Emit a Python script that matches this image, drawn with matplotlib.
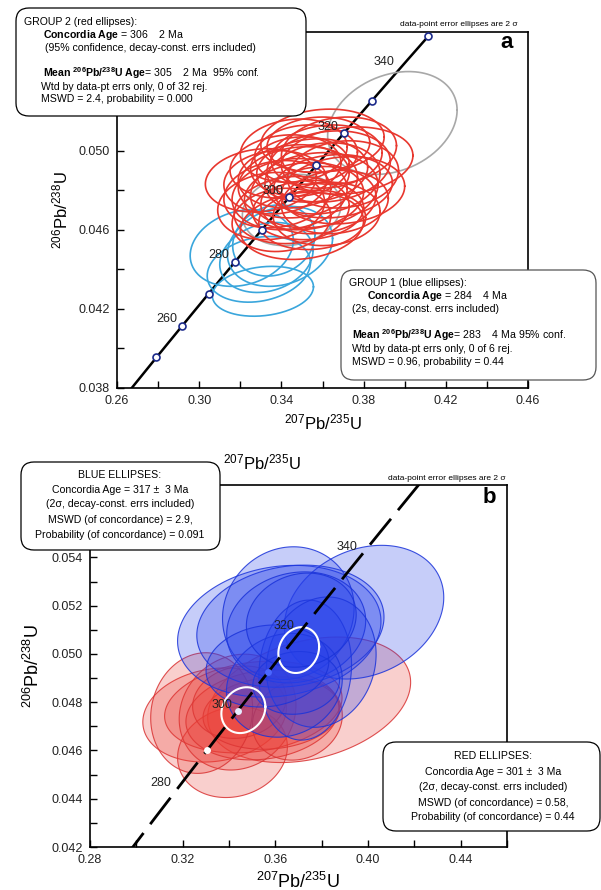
import numpy as np
import matplotlib
matplotlib.use('Agg')
import matplotlib.pyplot as plt
from matplotlib.patches import FancyBboxPatch
from matplotlib.ticker import MultipleLocator, FixedLocator, FormatStrFormatter

plt.rcParams.update({
    'font.family': ['Liberation Sans', 'DejaVu Sans'],
    'mathtext.fontset': 'custom',
    'mathtext.rm': 'Liberation Sans',
    'mathtext.bf': 'Liberation Sans:bold',
    'mathtext.it': 'Liberation Sans:italic',
    'mathtext.default': 'regular',
    'axes.linewidth': 1.2,
})

W, H = 601, 890

# decay constants (per Ma)
L238 = 1.55125e-4
L235 = 9.8485e-4

# ---- panel a data: (x centre, x half-width, y centre, y half-height, rho) ----
a_red_x = [0.330, 0.338, 0.345, 0.350, 0.355, 0.360, 0.372, 0.365, 0.352, 0.342, 0.348,
           0.358, 0.362, 0.340, 0.368, 0.356, 0.346, 0.335, 0.370, 0.353, 0.363, 0.349,
           0.358, 0.344, 0.366, 0.351, 0.337, 0.360, 0.355, 0.370, 0.346, 0.362]
a_red_sx = [0.027, 0.026, 0.028, 0.030, 0.027, 0.030, 0.032, 0.029, 0.025, 0.027, 0.029,
            0.028, 0.026, 0.024, 0.028, 0.031, 0.026, 0.026, 0.027, 0.027, 0.030, 0.024,
            0.025, 0.028, 0.026, 0.029, 0.025, 0.028, 0.026, 0.030, 0.027, 0.027]
a_red_y = [0.0485, 0.0478, 0.0470, 0.0462, 0.0490, 0.0505, 0.0495, 0.0482, 0.0498, 0.0492, 0.0484,
           0.0475, 0.0468, 0.0465, 0.0500, 0.0480, 0.0500, 0.0472, 0.0488, 0.0470, 0.0492, 0.0492,
           0.0503, 0.0478, 0.0474, 0.0477, 0.0484, 0.0486, 0.0465, 0.0480, 0.0487, 0.0497]
a_red_sy = [0.0016, 0.0017, 0.0017, 0.0017, 0.0016, 0.0016, 0.0017, 0.0016, 0.0015, 0.0016, 0.0018,
            0.0017, 0.0016, 0.0016, 0.0017, 0.0019, 0.0016, 0.0017, 0.0017, 0.0015, 0.0018, 0.0015,
            0.0014, 0.0018, 0.0016, 0.0017, 0.0016, 0.0018, 0.0015, 0.0017, 0.0016, 0.0016]
a_red_rho = [0.12, 0.15, 0.12, 0.15, 0.10, 0.12, 0.15, 0.12, 0.08, 0.12, 0.15,
             0.12, 0.08, 0.12, 0.15, 0.15, 0.12, 0.12, 0.12, 0.08, 0.15, 0.08,
             0.08, 0.15, 0.12, 0.12, 0.08, 0.15, 0.08, 0.12, 0.12, 0.12]

a_blue_x = [0.3207, 0.3310, 0.3290, 0.3327, 0.3393, 0.3363]
a_blue_sx = [0.0251, 0.0246, 0.0251, 0.0227, 0.0256, 0.0200]
a_blue_y = [0.04508, 0.04289, 0.04400, 0.04460, 0.04516, 0.04546]
a_blue_sy = [0.00194, 0.00126, 0.00166, 0.00177, 0.00202, 0.00180]
a_blue_rho = [0.20, 0.18, 0.20, 0.20, 0.20, 0.15]

a_gray_x = [0.394, 0.345]
a_gray_sx = [0.0315, 0.024]
a_gray_y = [0.0514, 0.0470]
a_gray_sy = [0.0026, 0.0018]
a_gray_rho = [0.25, 0.15]

a_marker_ages = [250, 260, 270, 280, 290, 300, 310, 320, 330, 350]
a_label_ages = [260, 280, 300, 320, 340]
a_xticks = [0.26, 0.30, 0.34, 0.38, 0.42, 0.46]
a_yticks = [0.038, 0.042, 0.046, 0.050]

# ---- panel b data ----
b_blue_x = [0.3983, 0.3617, 0.3665, 0.3656, 0.3690, 0.3729, 0.3798, 0.3639, 0.3690, 0.3566, 0.3712]
b_blue_sx = [0.0344, 0.0439, 0.0404, 0.0284, 0.0300, 0.0200, 0.0237, 0.0250, 0.0187, 0.0265, 0.0237]
b_blue_y = [0.05173, 0.05094, 0.05115, 0.05169, 0.05110, 0.04933, 0.04966, 0.04870, 0.04880, 0.04950, 0.05140]
b_blue_sy = [0.00277, 0.00273, 0.00253, 0.00275, 0.00230, 0.00290, 0.00270, 0.00215, 0.00130, 0.00170, 0.00195]
b_blue_rho = [0.22, 0.15, 0.15, 0.08, 0.12, 0.08, 0.12, 0.12, 0.08, 0.12, 0.12]

b_red_x = [0.3746, 0.3338, 0.3415, 0.3505, 0.3437, 0.3544, 0.3583, 0.3445, 0.3695, 0.3282]
b_red_sx = [0.0438, 0.0310, 0.0237, 0.0383, 0.0252, 0.0330, 0.0295, 0.0202, 0.0194, 0.0220]
b_red_y = [0.0481, 0.04747, 0.04593, 0.0478, 0.04759, 0.04747, 0.04755, 0.0480, 0.04726, 0.04755]
b_red_sy = [0.0026, 0.00195, 0.00188, 0.0019, 0.0024, 0.00186, 0.0015, 0.0015, 0.00166, 0.0025]
b_red_rho = [0.28, 0.15, 0.12, 0.20, 0.12, 0.15, 0.12, 0.12, 0.12, 0.08]

b_mean_x = [0.3701, 0.3462]
b_mean_sx = [0.0088, 0.0095]
b_mean_y = [0.05016, 0.04767]
b_mean_sy = [0.00095, 0.00095]
b_mean_rho = [0.15, 0.15]

b_marker_ages = [290, 300, 310]
b_marker_colors = ['white', '#e6ecff', '#4a66ff']
b_label_ages = [280, 300, 320, 340]
b_xticks = [0.28, 0.32, 0.36, 0.40, 0.44]
b_yticks = [0.042, 0.044, 0.046, 0.048, 0.050, 0.052, 0.054]


def concordia(t):
    t = np.asarray(t, dtype=float)
    return np.exp(L235 * t) - 1, np.exp(L238 * t) - 1


def ellipse(cx, sx, cy, sy, rho, n=240):
    th = np.linspace(0, 2 * np.pi, n)
    return cx + sx * np.cos(th), cy + sy * (rho * np.cos(th) + np.sqrt(1 - rho ** 2) * np.sin(th))


def fpos(x, y):
    return x / W, 1 - y / H


def add_box(fig, x0, y0, x1, y1, ec='black'):
    box = FancyBboxPatch((x0 / 100, (H - y1) / 100), (x1 - x0) / 100, (y1 - y0) / 100,
                         boxstyle='round,pad=0,rounding_size=0.13',
                         transform=fig.dpi_scale_trans, fc='white', ec=ec, lw=0.9, zorder=5)
    fig.patches.append(box)


def ftext(fig, x, y, s, ha='left', size=7.6, **kw):
    fx, fy = fpos(x, y)
    fig.text(fx, fy, s, ha=ha, va='center', fontsize=size, zorder=6, **kw)


def style_axes(ax, xticks, xmin, yticks, ymin):
    ax.xaxis.set_major_locator(FixedLocator(xticks))
    ax.xaxis.set_minor_locator(MultipleLocator(xmin))
    ax.yaxis.set_major_locator(FixedLocator(yticks))
    ax.yaxis.set_minor_locator(MultipleLocator(ymin))
    ax.xaxis.set_major_formatter(FormatStrFormatter('%.2f'))
    ax.yaxis.set_major_formatter(FormatStrFormatter('%.3f'))
    ax.tick_params(which='both', direction='in', length=5, width=1, labelsize=9,
                   labelcolor='#222222', pad=5)


fig = plt.figure(figsize=(W / 100, H / 100), dpi=100)

# ================= panel a =================
ax = fig.add_axes([117 / W, 1 - 388 / H, 411 / W, 356 / H])
ax.set_xlim(0.26, 0.46)
ax.set_ylim(0.038, 0.056)

for i in range(len(a_gray_x)):
    ex, ey = ellipse(a_gray_x[i], a_gray_sx[i], a_gray_y[i], a_gray_sy[i], a_gray_rho[i])
    ax.plot(ex, ey, color='#a8a8a8', lw=1.2, zorder=2)
for i in range(len(a_blue_x)):
    ex, ey = ellipse(a_blue_x[i], a_blue_sx[i], a_blue_y[i], a_blue_sy[i], a_blue_rho[i])
    ax.plot(ex, ey, color='#3aa6dc', lw=1.2, zorder=3)
for i in range(len(a_red_x)):
    ex, ey = ellipse(a_red_x[i], a_red_sx[i], a_red_y[i], a_red_sy[i], a_red_rho[i])
    ax.plot(ex, ey, color='#e8372e', lw=1.2, zorder=4)

cx, cy = concordia(np.linspace(240, 350, 300))
ax.plot(cx, cy, color='black', lw=1.8, zorder=1)
mx, my = concordia(a_marker_ages)
ax.plot(mx, my, 'o', ms=5, mfc='white', mec='#1c2a8a', mew=1.2, zorder=6)
for age in a_label_ages:
    px_, py_ = concordia(age)
    ax.annotate(str(age), (px_, py_), xytext=(-4, 4.5), textcoords='offset points',
                ha='right', va='center', fontsize=9, color='#222222', zorder=7)

style_axes(ax, a_xticks, 0.02, a_yticks, 0.002)
ax.set_xlabel('$^{207}$Pb/$^{235}$U', fontsize=12, labelpad=4)
ax.set_ylabel('$^{206}$Pb/$^{238}$U', fontsize=12, labelpad=6)

ftext(fig, 518, 25, 'data-point error ellipses are 2 σ', ha='right', size=6)
ftext(fig, 500, 42, 'a', size=16, fontweight='bold')

add_box(fig, 16, 8, 306, 116)
ftext(fig, 24, 22, 'GROUP 2 (red ellipses):')
ftext(fig, 43, 35, r'$\mathbf{Concordia\ Age}$ = 306    2 Ma')
ftext(fig, 45, 48, '(95% confidence, decay-const. errs included)')
ftext(fig, 43, 73, r'$\mathbf{Mean}$ ${}^{\mathbf{206}}\mathbf{Pb/}{}^{\mathbf{238}}\mathbf{U\ Age}$= 305    2 Ma  95% conf.')
ftext(fig, 41, 87, 'Wtd by data-pt errs only, 0 of 32 rej.')
ftext(fig, 41, 99, 'MSWD = 2.4, probability = 0.000')

add_box(fig, 341, 270, 596, 380, ec='#555555')
ftext(fig, 349, 283, 'GROUP 1 (blue ellipses):')
ftext(fig, 367, 296, r'$\mathbf{Concordia\ Age}$ = 284    4 Ma')
ftext(fig, 352, 309, '(2s, decay-const. errs included)')
ftext(fig, 352, 335, r'$\mathbf{Mean}$ ${}^{\mathbf{206}}\mathbf{Pb/}{}^{\mathbf{238}}\mathbf{U\ Age}$= 283    4 Ma 95% conf.')
ftext(fig, 352, 349, 'Wtd by data-pt errs only, 0 of 6 rej.')
ftext(fig, 352, 362, 'MSWD = 0.96, probability = 0.44')

# duplicated axis title above panel b
ftext(fig, 262, 462, '$^{207}$Pb/$^{235}$U', ha='center', size=12)

# ================= panel b =================
bx = fig.add_axes([90 / W, 1 - 847 / H, 417 / W, 362 / H])
bx.set_xlim(0.28, 0.46)
bx.set_ylim(0.042, 0.057)

for i in range(len(b_red_x)):
    ex, ey = ellipse(b_red_x[i], b_red_sx[i], b_red_y[i], b_red_sy[i], b_red_rho[i])
    bx.fill(ex, ey, fc=(0.92, 0.25, 0.22, 0.25), ec=(0.85, 0.2, 0.2, 0.85), lw=0.8, zorder=2)
for i in range(len(b_blue_x)):
    ex, ey = ellipse(b_blue_x[i], b_blue_sx[i], b_blue_y[i], b_blue_sy[i], b_blue_rho[i])
    bx.fill(ex, ey, fc=(0.15, 0.25, 0.92, 0.26), ec=(0.1, 0.2, 0.85, 0.85), lw=0.8, zorder=3)
for i in range(len(b_mean_x)):
    ex, ey = ellipse(b_mean_x[i], b_mean_sx[i], b_mean_y[i], b_mean_sy[i], b_mean_rho[i])
    bx.plot(ex, ey, color='white', lw=1.5, zorder=4)

cx, cy = concordia(np.linspace(262, 360, 300))
bx.plot(cx, cy, color='black', lw=2, dashes=(12, 4), zorder=5)
mx, my = concordia(b_marker_ages)
for i in range(len(b_marker_ages)):
    bx.plot(mx[i], my[i], 'o', ms=5, mfc=b_marker_colors[i], mec='none', zorder=6)
for age in b_label_ages:
    px_, py_ = concordia(age)
    bx.annotate(str(age), (px_, py_), xytext=(-4, 4.5), textcoords='offset points',
                ha='right', va='center', fontsize=9, color='#222222', zorder=7)

style_axes(bx, b_xticks, 0.02, b_yticks, 0.001)
bx.set_xlabel('$^{207}$Pb/$^{235}$U', fontsize=13, labelpad=4)
bx.set_ylabel('$^{206}$Pb/$^{238}$U', fontsize=13, labelpad=6)

ftext(fig, 505, 478, 'data-point error ellipses are 2 σ', ha='right', size=6)
ftext(fig, 483, 498, 'b', size=16, fontweight='bold')

add_box(fig, 21, 462, 220, 550)
ftext(fig, 120, 475, 'BLUE ELLIPSES:', ha='center')
ftext(fig, 120, 490, 'Concordia Age = 317 ±  3 Ma', ha='center')
ftext(fig, 120, 504, '(2σ, decay-const. errs included)', ha='center')
ftext(fig, 120, 520, 'MSWD (of concordance) = 2.9,', ha='center')
ftext(fig, 120, 535, 'Probability (of concordance) = 0.091', ha='center')

add_box(fig, 383, 742, 600, 831)
ftext(fig, 493, 756, 'RED ELLIPSES:', ha='center')
ftext(fig, 493, 772, 'Concordia Age = 301 ±  3 Ma', ha='center')
ftext(fig, 493, 787, '(2σ, decay-const. errs included)', ha='center')
ftext(fig, 493, 803, 'MSWD (of concordance) = 0.58,', ha='center')
ftext(fig, 493, 817, 'Probability (of concordance) = 0.44', ha='center')

fig.savefig('out.png', dpi=100)
